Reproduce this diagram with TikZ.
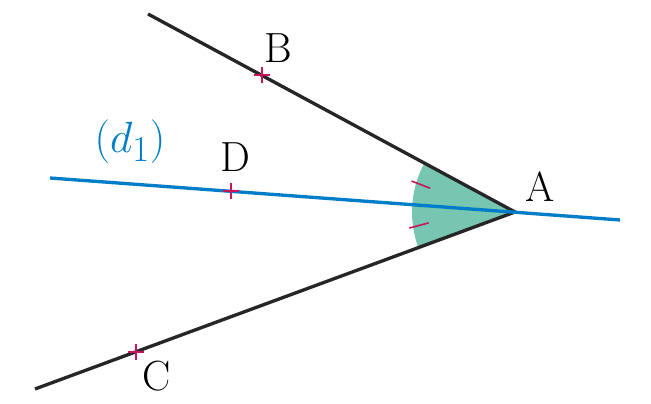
\documentclass[tikz,border=0pt]{standalone}
\usepackage{tikz}
\usetikzlibrary{calc}
\definecolor{dblue}{RGB}{0,125,200}
\definecolor{sgreen}{RGB}{118,198,178}
\definecolor{mred}{RGB}{200,20,90}
\begin{document}
\begin{tikzpicture}
    [x=0.02cm, y=0.02cm,
    blackline/.style={line width=1.9pt, black!85},
    blueline/.style={line width=1.9pt, dblue},
    crossmark/.style={mred, line width=1.1pt},
    ptlabel/.style={font=\fontsize{24}{28}\selectfont},]

    \useasboundingbox (0,0) rectangle (651,404);

    %Points
    \coordinate (A) at (515,192);
    \coordinate (Bend) at (148,390);
    \coordinate (Cend) at (35,15);
    \coordinate (Dstart) at (50,226);
    \coordinate (Dend) at (620,184);
    \coordinate (B) at ($(A)!0.69!(Bend)$);
    \coordinate (C) at ($(A)!0.79!(Cend)$);
    \coordinate (D) at ($(A)!0.61!(Dstart)$);

    %Angle
    \fill[sgreen] (A) -- ++(151.7:103) arc (151.7:200.2:103) -- cycle;
    \draw[mred, line width=0.9pt] ($(A)+(163.8:98)+(-21:10)$) -- ($(A)+(163.8:98)+(159:10)$);
    \draw[mred, line width=0.9pt] ($(A)+(188:97)+(15:10)$) -- ($(A)+(188:97)+(195:10)$);

    %Lines
    \draw[blackline] (Bend) -- (A) -- (Cend);
    \draw[blueline] (Dstart) -- (Dend);

    %Marks
    \foreach \p in {B,C,D}
        \draw[crossmark] ($(\p)+(-8,0)$) -- ($(\p)+(8,0)$) ($(\p)+(0,-8)$) -- ($(\p)+(0,8)$);

    %Labels
    \node[ptlabel] (lA) at (540,217) {A};
    \node[ptlabel] (lB) at (278,356) {B};
    \node[ptlabel] (lC) at (157,28) {C};
    \node[ptlabel] (lD) at (235,247) {D};
    \node[dblue, font=\fontsize{28}{32}\selectfont] (ld) at (130,262) {$(d_1)$};
\end{tikzpicture}
\end{document}
